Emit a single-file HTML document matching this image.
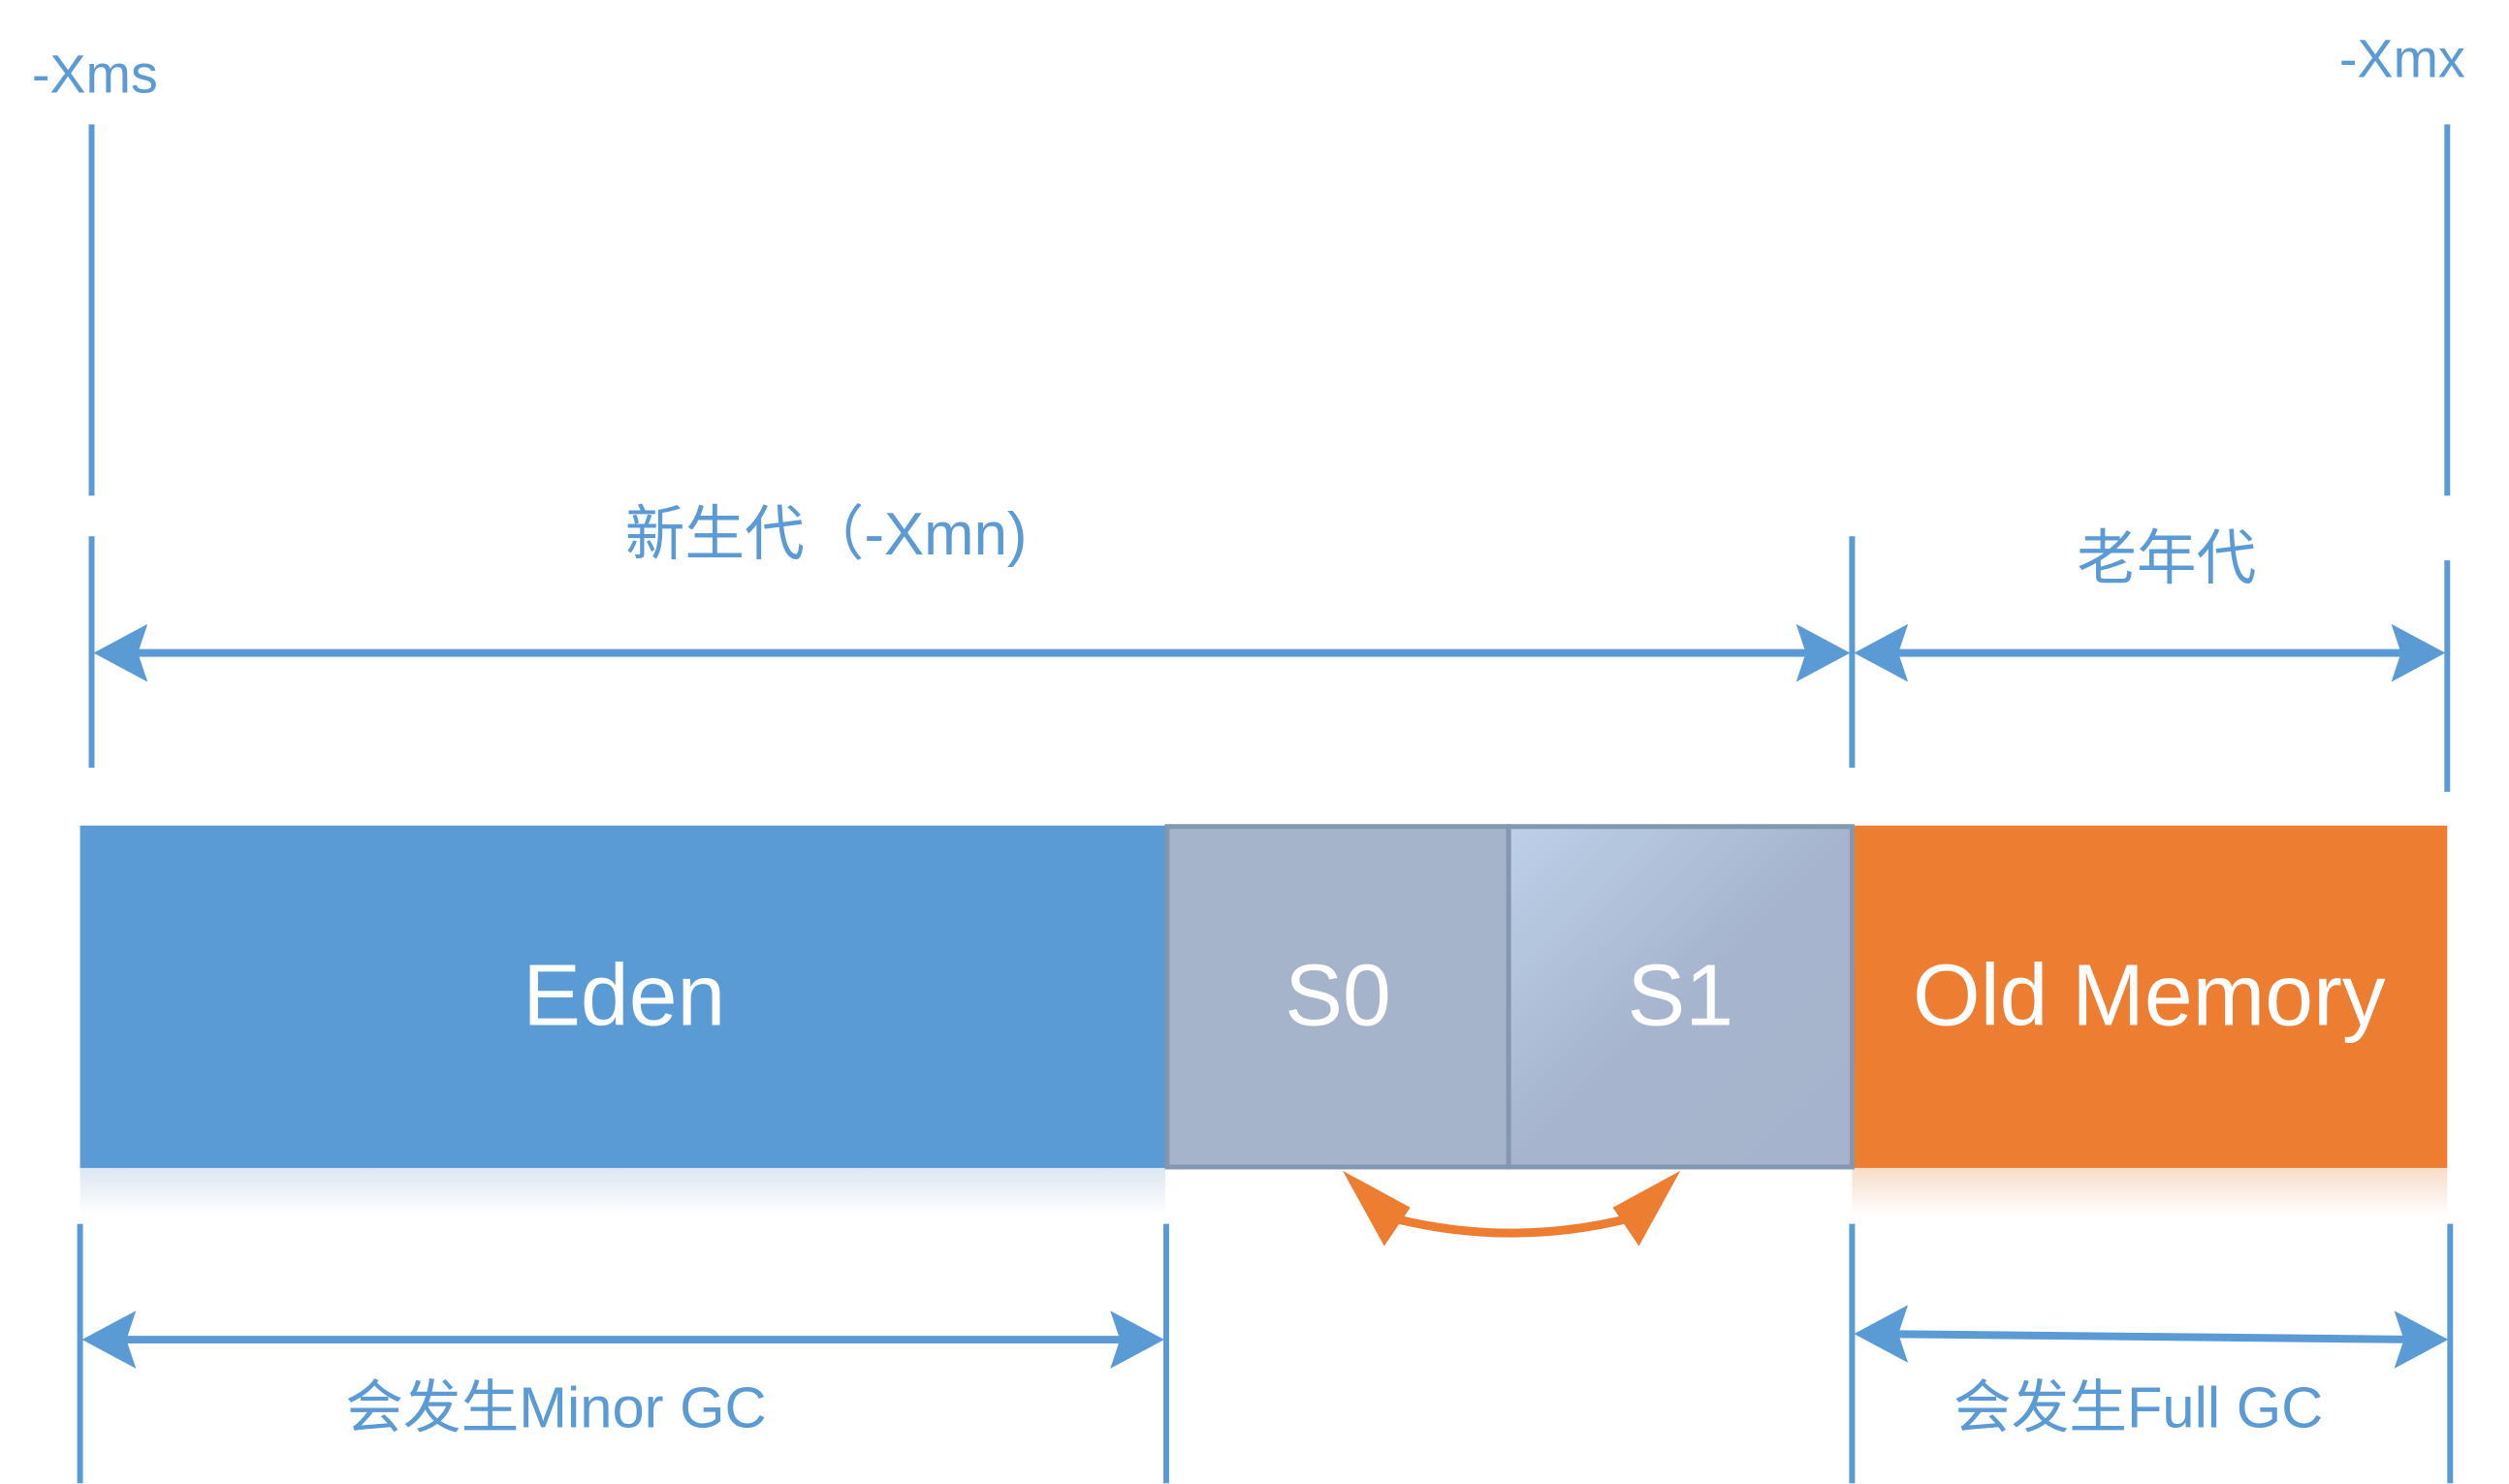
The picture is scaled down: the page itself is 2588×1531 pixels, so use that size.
<!DOCTYPE html>
<html><head><meta charset="utf-8"><style>
html,body{margin:0;padding:0;background:#fff;}
svg{display:block}
text{font-family:"Liberation Sans","Noto Sans CJK SC",sans-serif;}
</style></head><body>
<svg width="2588" height="1531" viewBox="0 0 2588 1531" xmlns="http://www.w3.org/2000/svg">
<defs>
<linearGradient id="s1g" x1="0" y1="0" x2="1" y2="1">
<stop offset="0" stop-color="#BDD0E9"/><stop offset="0.5" stop-color="#A6B5CD"/><stop offset="1" stop-color="#A5B4CC"/>
</linearGradient>
<linearGradient id="sh" x1="0" y1="0" x2="0" y2="1">
<stop offset="0" stop-color="#dde6f2"/><stop offset="1" stop-color="#fff"/>
</linearGradient>
<linearGradient id="sho" x1="0" y1="0" x2="0" y2="1">
<stop offset="0" stop-color="#f6dcc8"/><stop offset="1" stop-color="#fff"/>
</linearGradient>
</defs>
<g transform="scale(0.995)">
<g stroke="#5B9BD5" stroke-width="6" fill="none">
<line x1="95" y1="129" x2="95" y2="514"/>
<line x1="95" y1="556" x2="95" y2="796"/>
<line x1="2537" y1="129" x2="2537" y2="514"/>
<line x1="2537" y1="581" x2="2537" y2="821"/>
<line x1="1920" y1="556" x2="1920" y2="796"/>
<line x1="83" y1="1269" x2="83" y2="1538"/>
<line x1="1209" y1="1269" x2="1209" y2="1538"/>
<line x1="1920" y1="1269" x2="1920" y2="1538"/>
<line x1="2540" y1="1269" x2="2540" y2="1538"/>
</g>
<g stroke="#5B9BD5" stroke-width="8">
<line x1="120" y1="677" x2="1895" y2="677"/>
<line x1="1945" y1="677" x2="2512" y2="677"/>
<line x1="108" y1="1389" x2="1185" y2="1389"/>
<line x1="1945" y1="1383" x2="2515" y2="1389"/>
</g>
<g fill="#5B9BD5">
<polygon points="97,677 153,647 143,677 153,707"/>
<polygon points="1918,677 1862,647 1872,677 1862,707"/>
<polygon points="1922,677 1978,647 1968,677 1978,707"/>
<polygon points="2535,677 2479,647 2489,677 2479,707"/>
<polygon points="85,1389 141,1359 131,1389 141,1419"/>
<polygon points="1207,1389 1151,1359 1161,1389 1151,1419"/>
<polygon points="1922,1383 1978,1353 1968,1383 1978,1413"/>
<polygon points="2538,1389 2482,1359 2492,1389 2482,1419"/>
</g>
<rect x="83" y="1211" width="1125" height="50" fill="url(#sh)"/>
<rect x="1920" y="1211" width="617" height="50" fill="url(#sho)"/>
<rect x="83" y="856" width="1125" height="355" fill="#5B9BD5"/>
<rect x="1920" y="856" width="617" height="355" fill="#ED7D31"/>
<rect x="1210" y="857" width="354" height="353" fill="#A5B4CB" stroke="#8496B0" stroke-width="5"/>
<rect x="1564" y="857" width="356" height="353" fill="url(#s1g)" stroke="#8496B0" stroke-width="5"/>
<g fill="#fff" font-size="90" text-anchor="middle">
<text x="647" y="1063">Eden</text>
<text x="1387" y="1063">S0</text>
<text x="1742" y="1063">S1</text>
<text x="2228" y="1063">Old Memory</text>
</g>
<path d="M1440,1262 Q1567,1295 1694,1262" stroke="#ED7D31" stroke-width="9" fill="none"/>
<g fill="#ED7D31">
<polygon points="1392,1214 1435,1292 1462,1252"/>
<polygon points="1742,1214 1699,1292 1672,1252"/>
</g>
<g fill="#5B9BD5" font-size="56">
<text x="33" y="96">-Xms</text>
<text x="2425" y="80">-Xmx</text>
<text x="648" y="575" font-size="62">新生代（-Xmn)</text>
<text x="2153" y="600" font-size="62">老年代</text>
<text x="358" y="1480" font-size="60">会发生Minor GC</text>
<text x="2025" y="1480" font-size="60">会发生Full GC</text>
</g>
</g>
</svg>
</body></html>
